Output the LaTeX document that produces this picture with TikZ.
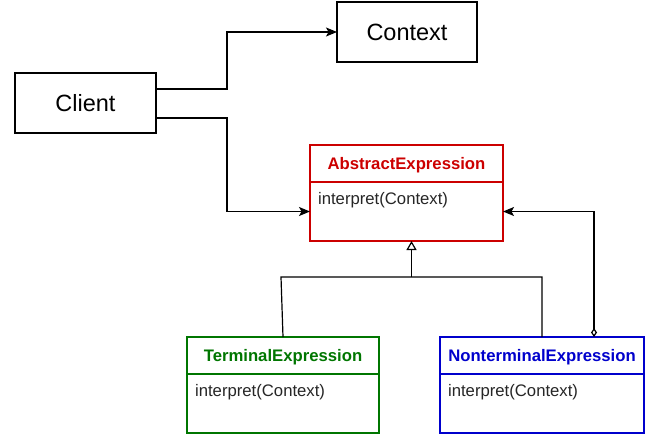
\documentclass[tikz,border=0pt]{standalone}
\usepackage{fontspec}
\setmainfont{Liberation Sans}
\usetikzlibrary{arrows.meta}
\definecolor{absred}{RGB}{204, 0, 0}
\definecolor{termgreen}{RGB}{0, 118, 0}
\definecolor{ntermblue}{RGB}{0, 0, 204}

\begin{document}
\begin{tikzpicture}[x=1pt, y=-1pt, line width=1.2pt,
	box/.style={draw, minimum width=140, minimum height=60, inner sep=0, outer sep=0, text depth=0, font=\fontsize{23.5}{28}\selectfont},
	head/.style={draw, minimum height=37, inner sep=0, outer sep=0, text depth=0, font=\fontsize{16.7}{20}\selectfont\bfseries},
	body/.style={draw, minimum height=59, inner sep=0, outer sep=0, anchor=north},
	op/.style={anchor=west, inner sep=3.5, font=\fontsize{16.7}{20}\selectfont, text=black!85},
	arr/.style={-{Stealth[length=11pt, width=9pt, inset=2.5pt]}}]
	\useasboundingbox (0,0) rectangle (660,437);
	\node[box] (context) at (407,32) {Context};
	\node[box, minimum width=141] (client) at (85.5,103) {Client};
	\node[head, draw=absred, text=absred, minimum width=193] (abshead) at (406.5,163.5) {AbstractExpression};
	\node[body, draw=absred, minimum width=193] (absbody) at (abshead.south) {};
	\node[op] (absop) at ([xshift=4,yshift=-18]absbody.north west) {interpret(Context)};
	\node[head, draw=termgreen, text=termgreen, minimum width=192] (termhead) at (283,355.5) {TerminalExpression};
	\node[body, draw=termgreen, minimum width=192] (termbody) at (termhead.south) {};
	\node[op] (termop) at ([xshift=4,yshift=-18]termbody.north west) {interpret(Context)};
	\node[head, draw=ntermblue, text=ntermblue, minimum width=204] (ntermhead) at (542,355.5) {NonterminalExpression};
	\node[body, draw=ntermblue, minimum width=204] (ntermbody) at (ntermhead.south) {};
	\node[op] (ntermop) at ([xshift=4,yshift=-18]ntermbody.north west) {interpret(Context)};
	\draw[arr] ([yshift=14]client.east) -- ++(71,0) |- (context.west);
	\draw[arr] ([yshift=-15]client.east) -- ++(71,0) |- (absbody.west);
	\draw[{Diamond[open, length=9pt, width=6pt]}-{Stealth[length=11pt, width=9pt, inset=2.5pt]}] ([xshift=52]ntermhead.north) |- (absbody.east);
	\coordinate (tip) at ([xshift=5]absbody.south);
	\draw (termhead.north) -- ++(-2,-60) coordinate (split) -- (split -| ntermhead.north) -- (ntermhead.north);
	\draw[-{Triangle[open, length=9pt, width=10pt]}] (split -| tip) -- (tip);
\end{tikzpicture}
\end{document}
